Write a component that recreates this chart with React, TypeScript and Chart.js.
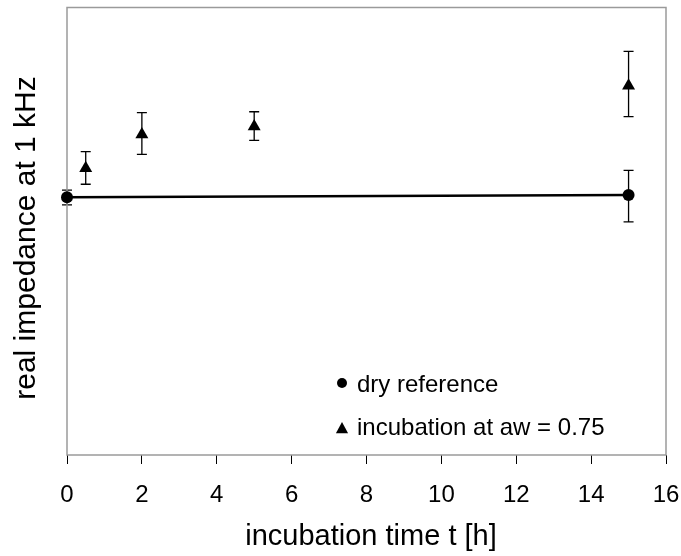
import React, { useEffect, useRef } from "react";
import { Chart, registerables } from "chart.js";

Chart.register(...registerables);

const dryTimes = [0, 15];
const dryValues = [57.6, 58.1];
const dryErrLow = [55.9, 52.1];
const dryErrHigh = [59.2, 63.6];

const wetTimes = [0.5, 2, 5, 15];
const wetValues = [64.1, 71.6, 73.4, 82.5];
const wetErrLow = [60.5, 67.2, 70.3, 75.6];
const wetErrHigh = [67.8, 76.5, 76.7, 90.2];

const xTicks = [0, 2, 4, 6, 8, 10, 12, 14, 16];

const legendLabels = ["dry reference", "incubation at aw = 0.75"];
const xTitle = "incubation time t [h]";
const yTitle = "real impedance at 1 kHz";

const FONT = "Arial, 'Liberation Sans', sans-serif";

const errorBarPlugin = {
  id: "errorBars",
  beforeDatasetsDraw(chart: any) {
    const ctx = chart.ctx;
    const xs = chart.scales.x;
    const ys = chart.scales.y;
    const sets = [
      { t: dryTimes, lo: dryErrLow, hi: dryErrHigh },
      { t: wetTimes, lo: wetErrLow, hi: wetErrHigh },
    ];
    ctx.save();
    ctx.strokeStyle = "#000";
    ctx.lineWidth = 1.3;
    sets.forEach((s) => {
      s.t.forEach((t, i) => {
        const x = xs.getPixelForValue(t);
        const y1 = ys.getPixelForValue(s.lo[i]);
        const y2 = ys.getPixelForValue(s.hi[i]);
        ctx.beginPath();
        ctx.moveTo(x, y1);
        ctx.lineTo(x, y2);
        ctx.moveTo(x - 5, y1);
        ctx.lineTo(x + 5, y1);
        ctx.moveTo(x - 5, y2);
        ctx.lineTo(x + 5, y2);
        ctx.stroke();
      });
    });
    ctx.restore();
  },
};

const framePlugin = {
  id: "frameAndText",
  beforeDatasetsDraw(chart: any) {
    const { ctx, chartArea } = chart;
    ctx.save();
    ctx.strokeStyle = "#9a9a9a";
    ctx.lineWidth = 1.5;
    ctx.strokeRect(chartArea.left, chartArea.top, chartArea.right - chartArea.left, chartArea.bottom - chartArea.top);
    ctx.restore();
  },
  afterDraw(chart: any) {
    const { ctx } = chart;
    ctx.save();
    ctx.fillStyle = "#000";
    // x title
    ctx.font = `29px ${FONT}`;
    ctx.textAlign = "center";
    ctx.textBaseline = "alphabetic";
    ctx.fillText(xTitle, 371, 545);
    // y title
    ctx.save();
    ctx.translate(35, 238);
    ctx.rotate(-Math.PI / 2);
    ctx.font = `30px ${FONT}`;
    ctx.fillText(yTitle, 0, 0);
    ctx.restore();
    // legend
    ctx.font = `24px ${FONT}`;
    ctx.textAlign = "left";
    ctx.beginPath();
    ctx.arc(342, 383, 5, 0, Math.PI * 2);
    ctx.fill();
    ctx.fillText(legendLabels[0], 357, 392);
    const tx = 342, ty = 429, r = 7;
    ctx.beginPath();
    ctx.moveTo(tx, ty - r);
    ctx.lineTo(tx + r * 0.87, ty + r * 0.6);
    ctx.lineTo(tx - r * 0.87, ty + r * 0.6);
    ctx.closePath();
    ctx.fill();
    ctx.fillText(legendLabels[1], 357, 435);
    ctx.restore();
  },
};

export default function App() {
  const ref = useRef<HTMLCanvasElement>(null);
  useEffect(() => {
    document.body.style.margin = "0";
    const chart = new Chart(ref.current!, {
      type: "scatter",
      data: {
        datasets: [
          {
            label: legendLabels[0],
            data: dryTimes.map((t, i) => ({ x: t, y: dryValues[i] })),
            showLine: true,
            borderColor: "#000",
            borderWidth: 2.5,
            backgroundColor: "#000",
            pointStyle: "circle",
            pointRadius: 6,
            pointBorderWidth: 0,
            clip: false,
          } as any,
          {
            label: legendLabels[1],
            data: wetTimes.map((t, i) => ({ x: t, y: wetValues[i] })),
            showLine: false,
            borderColor: "#000",
            backgroundColor: "#000",
            pointStyle: "triangle",
            pointRadius: 7.5,
            pointBorderWidth: 0,
            clip: false,
          } as any,
        ],
      },
      options: {
        animation: false,
        responsive: false,
        devicePixelRatio: 1,
        layout: { padding: { left: 67, top: 4, right: 15, bottom: 0 } },
        plugins: { legend: { display: false }, tooltip: { enabled: false } },
        scales: {
          x: {
            type: "linear",
            min: 0,
            max: 16,
            afterBuildTicks: (s: any) => {
              s.ticks = xTicks.map((v) => ({ value: v }));
            },
            afterFit: (s: any) => {
              s.height = 101;
              s.paddingLeft = 0;
              s.paddingRight = 0;
            },
            grid: {
              display: true,
              drawOnChartArea: false,
              drawTicks: true,
              tickLength: 9,
              color: "#000",
              lineWidth: 1,
            },
            border: { display: false },
            ticks: {
              color: "#000",
              font: { family: FONT, size: 24 },
              padding: 17,
              maxRotation: 0,
            },
          },
          y: {
            type: "linear",
            min: 0,
            max: 100,
            display: false,
          },
        },
      },
      plugins: [errorBarPlugin, framePlugin],
    });
    return () => chart.destroy();
  }, []);
  return (
    <div style={{ position: "absolute", left: 0, top: 0, width: 681, height: 556 }}>
      <canvas ref={ref} width={681} height={556} />
    </div>
  );
}
